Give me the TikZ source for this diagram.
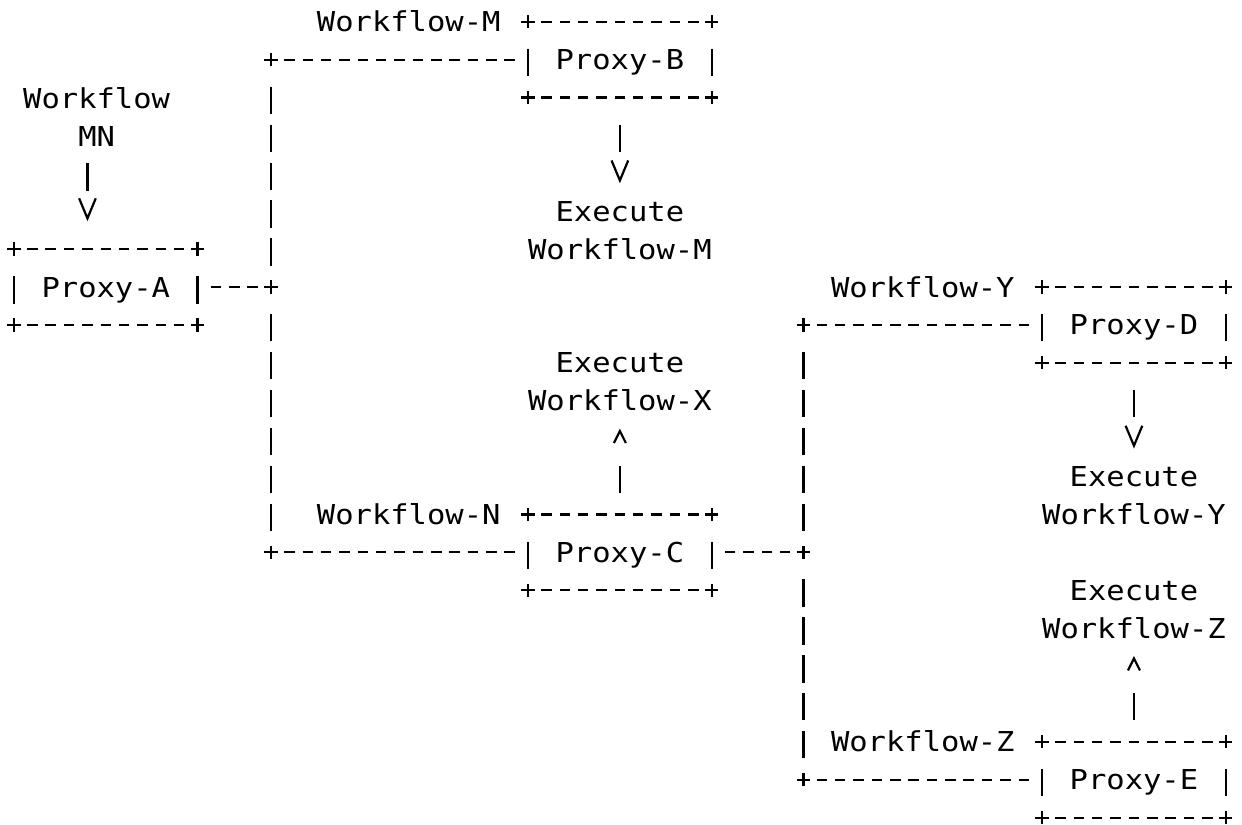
\documentclass[tikz,border=0pt]{standalone}
\usepackage{fontspec}
\newfontfamily\asciifont[FakeStretch=1.113]{DejaVu Sans Mono}
\usetikzlibrary{arrows.meta}
\newcommand\lstrut{\rule[-5pt]{0pt}{20pt}}
\tikzset{
  ascii/.style={line width=1.65pt, black},
  hline/.style={ascii, dash pattern=on 7.875pt off 5.895pt, dash phase=3.9375pt},
  hlinebox/.style={hline, shorten >=4pt},
  vline/.style={ascii, dash pattern=on 20.475pt off 7.95pt, shorten <=20.325pt, shorten >=16.05pt},
  lbl/.style={inner sep=0pt, outer sep=0pt, font=\asciifont\fontsize{20.55pt}{28.425pt}\selectfont},
  lbltwo/.style={lbl, align=center, anchor=north},
  proxy/.style={lbl, minimum width=137.7pt, minimum height=56.85pt, text height=16pt, text depth=1pt},
  downarrow/.style={ascii, dash pattern=on 20.475pt off 300pt, -{Straight Barb[length=15pt,width=12.5pt]}},
  uparrow/.style={ascii, dash pattern=on 20.475pt off 300pt, -{Straight Barb[length=9pt,width=9pt]}},
  plussign/.pic={\draw[ascii] (-5pt,0) -- (5pt,0) (0,-5pt) -- (0,5pt);}
}
\newcommand\asciibox[1]{%
  \draw[hline] (#1.north west) -- (#1.north east);
  \draw[hline] (#1.south west) -- (#1.south east);
  \draw[ascii] ([yshift=8.1pt]#1.west) -- ([yshift=-12.375pt]#1.west);
  \draw[ascii] ([yshift=8.1pt]#1.east) -- ([yshift=-12.375pt]#1.east);
  \pic at (#1.north west) {plussign};
  \pic at (#1.north east) {plussign};
  \pic at (#1.south west) {plussign};
  \pic at (#1.south east) {plussign};
}
\begin{document}
\begin{tikzpicture}[x=13.77pt, y=-28.425pt]
\fill[white] (-0.7625,-0.5726) rectangle (66.885,21.169);
\useasboundingbox (-0.7625,-0.5726) rectangle (66.885,21.169);

% proxy boxes
\node[proxy] (pa) at (5,7) {Proxy-A};
\node[proxy] (pb) at (33,1) {Proxy-B};
\node[proxy] (pc) at (33,14) {Proxy-C};
\node[proxy] (pd) at (61,8) {Proxy-D};
\node[proxy] (pe) at (61,20) {Proxy-E};
\asciibox{pa}
\asciibox{pb}
\asciibox{pc}
\asciibox{pd}
\asciibox{pe}

% junctions
\coordinate (t1) at (14,1);
\coordinate (ta) at (14,7);
\coordinate (t2) at (14,14);
\coordinate (t3) at (43,8);
\coordinate (t5) at (43,14);
\coordinate (t4) at (43,20);
\coordinate (a4) at (4,0);

% connectors
\draw[hlinebox] (t1) -- (pb.west);
\draw[hlinebox] (t2) -- (pc.west);
\draw[hlinebox] (ta) -- (pa.east);
\draw[hlinebox] (t5) -- (pc.east);
\draw[hlinebox] (t3) -- (pd.west);
\draw[hlinebox] (t4) -- (pe.west);
\draw[vline] (t1) -- (ta);
\draw[vline] (ta) -- (t2);
\draw[vline] (t3) -- (t5);
\draw[vline] (t5) -- (t4);
\foreach \j in {t1,ta,t2,t3,t5,t4} {\pic at (\j) {plussign};}

% edge labels
\node[lbl, anchor=base] (wm) at (21.5,0.2639) {Workflow-M};
\node[lbl, anchor=base] (wn) at (21.5,13.2639) {Workflow-N};
\node[lbl, anchor=base] (wy) at (49.5,7.2639) {Workflow-Y};
\node[lbl, anchor=base] (wz) at (49.5,19.2639) {Workflow-Z};

% two-line labels
\node[lbltwo] (la) at (4.5,1.7362) {\lstrut Workflow\\\lstrut MN};
\node[lbltwo] (lm) at (33,4.7362) {\lstrut Execute\\\lstrut Workflow-M};
\node[lbltwo] (lx) at (33,8.7362) {\lstrut Execute\\\lstrut Workflow-X};
\node[lbltwo] (ly) at (61,11.7362) {\lstrut Execute\\\lstrut Workflow-Y};
\node[lbltwo] (lz) at (61,14.7362) {\lstrut Execute\\\lstrut Workflow-Z};

% arrows
\draw[downarrow, shorten <=7.82pt, shorten >=20.93pt] (la.south -| a4) -- (pa.north -| a4);
\draw[downarrow, shorten <=20.33pt, shorten >=13.43pt] (pb.south) -- (lm.north);
\draw[downarrow, shorten <=20.33pt, shorten >=13.43pt] (pd.south) -- (ly.north);
\draw[uparrow, shorten <=16.05pt, shorten >=8.4pt] (pc.north) -- (lx.south);
\draw[uparrow, shorten <=16.05pt, shorten >=8.4pt] (pe.north) -- (lz.south);
\end{tikzpicture}
\end{document}
